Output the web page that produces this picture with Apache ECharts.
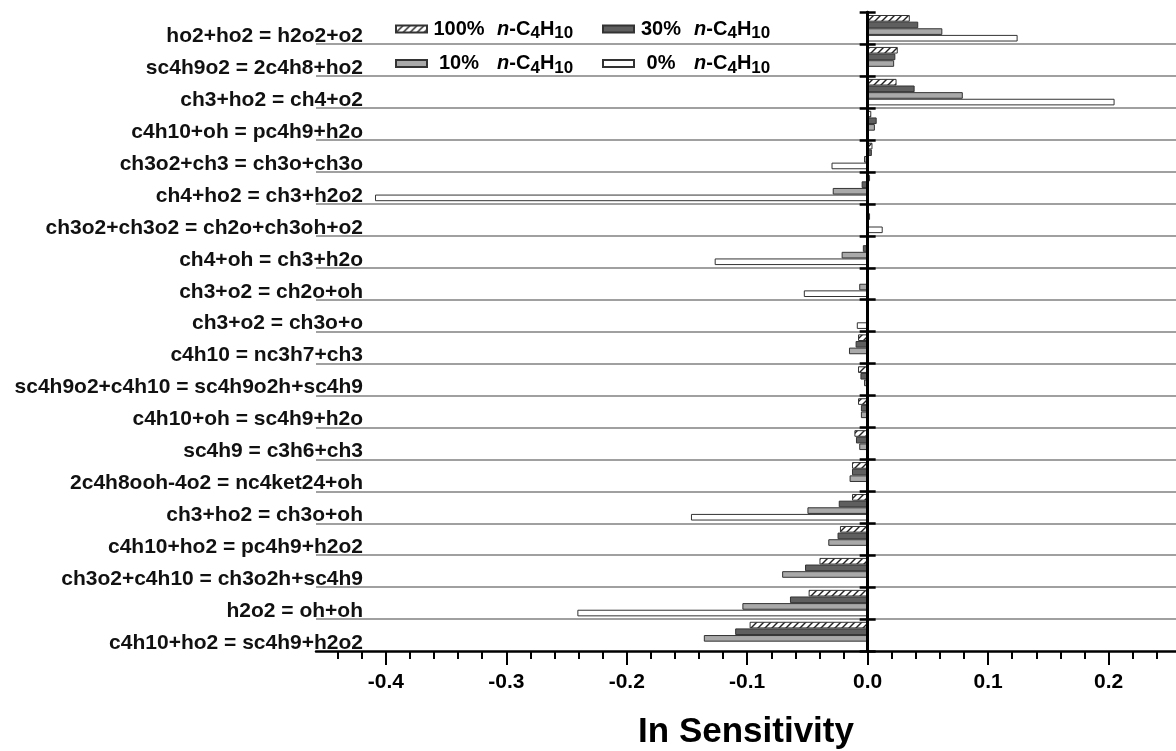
<!DOCTYPE html>
<html><head><meta charset="utf-8">
<script src="https://cdn.jsdelivr.net/npm/echarts@6/dist/echarts.min.js"></script>
<style>html,body{margin:0;padding:0;background:#fff}#c{width:1176px;height:751px}</style>
</head><body><div id="c"></div>
<script>
const categories = [
  'ho2+ho2 = h2o2+o2',
  'sc4h9o2 = 2c4h8+ho2',
  'ch3+ho2 = ch4+o2',
  'c4h10+oh = pc4h9+h2o',
  'ch3o2+ch3 = ch3o+ch3o',
  'ch4+ho2 = ch3+h2o2',
  'ch3o2+ch3o2 = ch2o+ch3oh+o2',
  'ch4+oh = ch3+h2o',
  'ch3+o2 = ch2o+oh',
  'ch3+o2 = ch3o+o',
  'c4h10 = nc3h7+ch3',
  'sc4h9o2+c4h10 = sc4h9o2h+sc4h9',
  'c4h10+oh = sc4h9+h2o',
  'sc4h9 = c3h6+ch3',
  '2c4h8ooh-4o2 = nc4ket24+oh',
  'ch3+ho2 = ch3o+oh',
  'c4h10+ho2 = pc4h9+h2o2',
  'ch3o2+c4h10 = ch3o2h+sc4h9',
  'h2o2 = oh+oh',
  'c4h10+ho2 = sc4h9+h2o2'
];
const seriesNames = ['100%', '30%', '10%', '0%'];
const s100 = [0.035, 0.025, 0.024, 0.003, 0.004, 0.002, 0.0, -0.001, 0.0, 0.0, -0.008, -0.008, -0.008, -0.011, -0.013, -0.013, -0.023, -0.040, -0.049, -0.098];
const s30  = [0.042, 0.023, 0.039, 0.0075, 0.0035, -0.005, 0.002, -0.004, -0.001, 0.0, -0.010, -0.006, -0.0056, -0.0097, -0.013, -0.024, -0.025, -0.052, -0.0645, -0.110];
const s10  = [0.062, 0.022, 0.079, 0.006, -0.003, -0.029, 0.001, -0.0216, -0.007, 0.0, -0.0155, -0.003, -0.0056, -0.007, -0.015, -0.050, -0.0327, -0.071, -0.104, -0.136];
const s0   = [0.1245, 0.0, 0.205, 0.0, -0.030, -0.409, 0.0125, -0.127, -0.053, -0.009, 0.0, 0.0, 0.0, 0.0, 0.0, -0.1467, 0.0, 0.0, -0.241, 0.0];
const majorTicks = [-0.4, -0.3, -0.2, -0.1, 0, 0.1, 0.2];
const minorTicks = [-0.44, -0.42, -0.38, -0.36, -0.34, -0.32, -0.28, -0.26, -0.24, -0.22, -0.18, -0.16, -0.14, -0.12, -0.08, -0.06, -0.04, -0.02, 0.02, 0.04, 0.06, 0.08, 0.12, 0.14, 0.16, 0.18, 0.22, 0.24];
const xMin = -0.458, xMax = 0.256;

const FONT = "'Liberation Sans', Arial, Helvetica, sans-serif";

function hatch() {
  const c = document.createElement('canvas');
  c.width = 7; c.height = 7;
  const g = c.getContext('2d');
  g.fillStyle = '#fff'; g.fillRect(0, 0, 7, 7);
  g.strokeStyle = '#222'; g.lineWidth = 1.4;
  g.beginPath(); g.moveTo(-1, 8); g.lineTo(8, -1); g.stroke();
  g.beginPath(); g.moveTo(-1, 1); g.lineTo(1, -1); g.stroke();
  g.beginPath(); g.moveTo(6, 8); g.lineTo(8, 6); g.stroke();
  return c;
}

const values = [s100, s30, s10, s0];
const fills = [{ image: hatch(), repeat: 'repeat' }, '#5f5f5f', '#a9a9a9', '#ffffff'];

const rich = {
  p: { fontSize: 20, fontWeight: 'bold', fontFamily: FONT, color: '#000', lineHeight: 26, align: 'right' },
  i: { fontSize: 20, fontWeight: 'bold', fontStyle: 'italic', fontFamily: FONT, color: '#000', lineHeight: 26 },
  t: { fontSize: 20, fontWeight: 'bold', fontFamily: FONT, color: '#000', lineHeight: 26 },
  s: { fontSize: 17, fontWeight: 'bold', fontFamily: FONT, color: '#000', lineHeight: 16, verticalAlign: 'bottom' }
};
function legendFmt(pw) {
  return function (name) {
    return '{p' + pw + '|' + name + '}  {i|n}{t|-C}{s|4}{t|H}{s|10}';
  };
}
function makeRich(pw) {
  const r = Object.assign({}, rich);
  r['p' + pw] = Object.assign({}, rich.p, { width: pw });
  return r;
}
const legendBase = {
  orient: 'vertical', top: 16, padding: 0, itemWidth: 31, itemHeight: 7, itemGap: 8.5,
  icon: 'rect', selectedMode: false,
  textStyle: { fontSize: 20, fontWeight: 'bold', fontFamily: FONT, color: '#000', lineHeight: 26 }
};

const chart = echarts.init(document.getElementById('c'), null, { renderer: 'canvas' });
chart.setOption({
  animation: false,
  backgroundColor: '#fff',
  grid: { left: 316, right: 0, top: 12.3, bottom: 100, containLabel: false, outerBoundsMode: 'none' },
  legend: [
    Object.assign({}, legendBase, { data: ['100%', '10%'], left: 395, formatter: legendFmt(54),
      textStyle: Object.assign({}, legendBase.textStyle, { rich: makeRich(54) }) }),
    Object.assign({}, legendBase, { data: ['30%', '0%'], left: 602, formatter: legendFmt(44),
      textStyle: Object.assign({}, legendBase.textStyle, { rich: makeRich(44) }) })
  ],
  xAxis: [
    {
      type: 'value', min: xMin, max: xMax, position: 'bottom',
      axisLine: { show: true, onZero: false, lineStyle: { color: '#000', width: 2.5 } },
      axisTick: { show: true, customValues: majorTicks, length: 14, lineStyle: { color: '#000', width: 2 } },
      axisLabel: { customValues: majorTicks, formatter: v => Number(v).toFixed(1), fontSize: 21, fontWeight: 'bold', color: '#000', margin: 21, fontFamily: FONT },
      splitLine: { show: false },
      name: 'In Sensitivity', nameLocation: 'middle', nameGap: 64,
      nameTextStyle: { fontSize: 35, fontWeight: 'bold', color: '#000', fontFamily: FONT }
    },
    {
      type: 'value', min: xMin, max: xMax, position: 'bottom',
      axisLine: { show: false, onZero: false },
      axisTick: { show: true, customValues: minorTicks, length: 8, lineStyle: { color: '#000', width: 2 } },
      axisLabel: { show: false },
      splitLine: { show: false }
    }
  ],
  yAxis: [
    {
      type: 'category', data: categories, inverse: true, position: 'left',
      axisLine: { show: false, onZero: false },
      axisTick: { show: false },
      axisLabel: { interval: 0, margin: -47, fontSize: 21, fontWeight: 'bold', color: '#111', fontFamily: FONT, verticalAlign: 'top', lineHeight: 16 },
      splitLine: { show: true, showMinLine: false, showMaxLine: false, lineStyle: { color: '#a0a0a0', width: 2 } }
    },
    {
      type: 'category', data: categories, inverse: true, position: 'left', z: 10,
      axisLine: { show: true, onZero: true, onZeroAxisIndex: 0, lineStyle: { color: '#000', width: 3 } },
      axisTick: { show: true, inside: false, length: 8, lineStyle: { color: '#000', width: 2.5 } },
      axisLabel: { show: false }, splitLine: { show: false }
    },
    {
      type: 'category', data: categories, inverse: true, position: 'left', z: 10,
      axisLine: { show: true, onZero: true, onZeroAxisIndex: 1, lineStyle: { color: '#000', width: 3 } },
      axisTick: { show: true, inside: true, length: 8, lineStyle: { color: '#000', width: 2.5 } },
      axisLabel: { show: false }, splitLine: { show: false }
    }
  ],
  series: seriesNames.map((n, i) => ({
    name: n, type: 'bar', xAxisIndex: 0, yAxisIndex: 0, data: values[i],
    barGap: '0%', barCategoryGap: '17%', z: 2,
    itemStyle: { color: fills[i], borderColor: '#333', borderWidth: 1 }
  }))
});
</script>
</body></html>
